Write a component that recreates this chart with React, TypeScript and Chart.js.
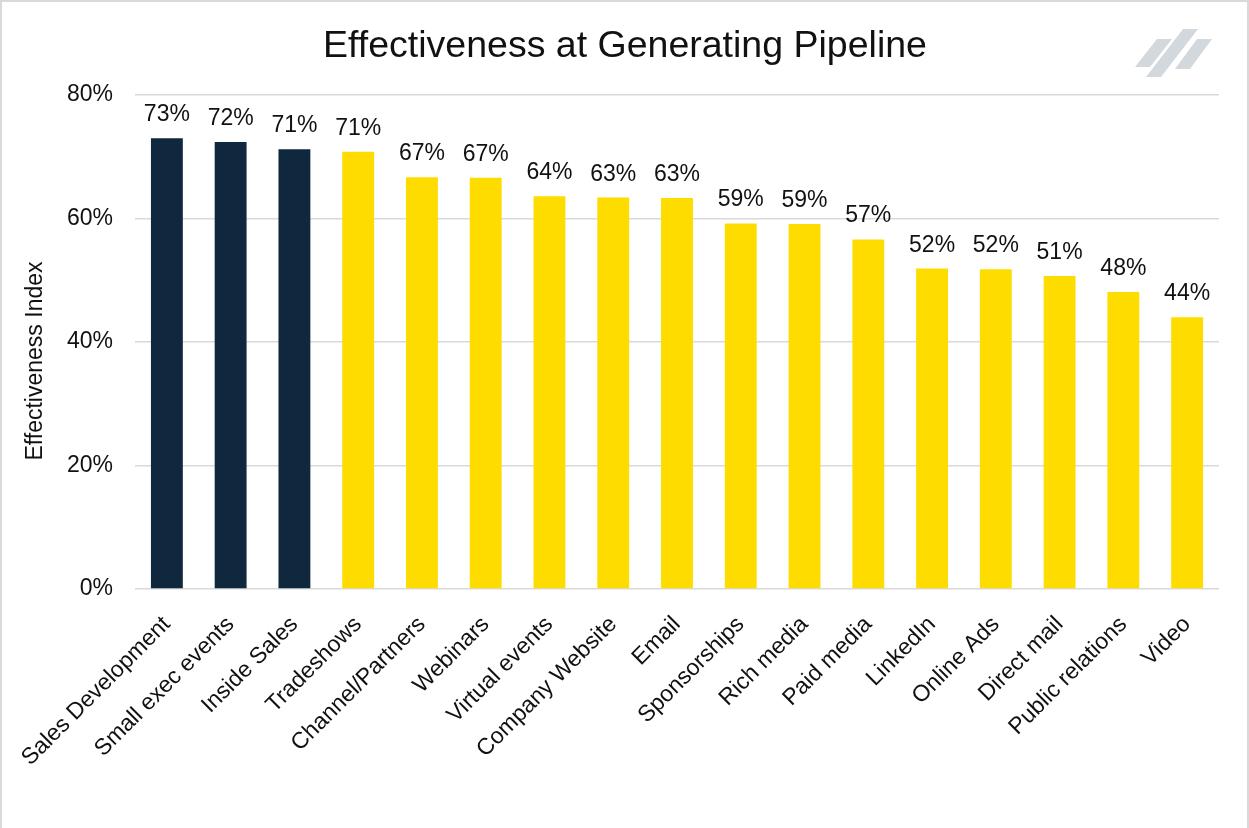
import React, { useEffect, useRef } from "react";
import { Chart, registerables } from "chart.js";

Chart.register(...registerables);

const chartTitle = "Effectiveness at Generating Pipeline";
const yAxisTitle = "Effectiveness Index";
const categories = [
  "Sales Development",
  "Small exec events",
  "Inside Sales",
  "Tradeshows",
  "Channel/Partners",
  "Webinars",
  "Virtual events",
  "Company Website",
  "Email",
  "Sponsorships",
  "Rich media",
  "Paid media",
  "LinkedIn",
  "Online Ads",
  "Direct mail",
  "Public relations",
  "Video",
];
const values = [73.0, 72.4, 71.2, 70.8, 66.7, 66.6, 63.6, 63.4, 63.3, 59.2, 59.1, 56.6, 51.9, 51.8, 50.7, 48.1, 44.0];
const highlighted = [true, true, true, false, false, false, false, false, false, false, false, false, false, false, false, false, false];
const yMin = 0;
const yMax = 80;
const yStep = 20;

const NAVY = "#10283e";
const YELLOW = "#ffdc00";
const GRID = "#d9d9d9";
const TEXT = "#111111";
const FONT = "'Liberation Sans', Arial, sans-serif";

const decorPlugin = {
  id: "decor",
  afterDraw(chart: any) {
    const ctx = chart.ctx;
    ctx.save();
    // frame
    ctx.fillStyle = "#d9d9d9";
    ctx.fillRect(0, 0, chart.width, 2);
    ctx.fillRect(0, 0, 2, chart.height);
    ctx.fillRect(chart.width - 2, 0, 2, chart.height);
    // title
    ctx.fillStyle = TEXT;
    ctx.font = `37.5px ${FONT}`;
    ctx.textAlign = "center";
    ctx.textBaseline = "alphabetic";
    ctx.fillText(chartTitle, 625, 57);
    // y axis title
    ctx.save();
    ctx.translate(36, 361);
    ctx.rotate(-Math.PI / 2);
    ctx.font = `23px ${FONT}`;
    ctx.textAlign = "center";
    ctx.textBaseline = "middle";
    ctx.fillText(yAxisTitle, 0, 0);
    ctx.restore();
    // value labels
    const meta = chart.getDatasetMeta(0);
    ctx.font = `23px ${FONT}`;
    ctx.textAlign = "center";
    ctx.textBaseline = "alphabetic";
    meta.data.forEach((bar: any, i: number) => {
      ctx.fillText(Math.round(values[i]) + "%", bar.x, bar.y - 17);
    });
    // logo
    ctx.fillStyle = "#d3d8dc";
    const pieces = [
      [1135, 67, 1157, 39],
      [1146, 77, 1183, 29],
      [1175, 69, 1197, 39],
    ];
    pieces.forEach(([bx, by, tx, ty]) => {
      ctx.beginPath();
      ctx.moveTo(bx, by);
      ctx.lineTo(bx + 15, by);
      ctx.lineTo(tx + 15, ty);
      ctx.lineTo(tx, ty);
      ctx.closePath();
      ctx.fill();
    });
    ctx.restore();
  },
};

export default function App() {
  const ref = useRef<HTMLCanvasElement>(null);
  useEffect(() => {
    if (!ref.current) return;
    const chart = new Chart(ref.current, {
      type: "bar",
      data: {
        labels: categories,
        datasets: [
          {
            data: values,
            backgroundColor: highlighted.map((h) => (h ? NAVY : YELLOW)),
            barPercentage: 0.5,
            categoryPercentage: 1,
          },
        ],
      },
      options: {
        responsive: false,
        animation: false,
        layout: { padding: { top: 95, left: 0, right: 30, bottom: 0 } },
        plugins: {
          legend: { display: false },
          tooltip: { enabled: false },
          title: { display: false },
        },
        scales: {
          x: {
            grid: { display: false },
            border: { display: false },
            ticks: {
              color: TEXT,
              font: { family: FONT, size: 23 },
              minRotation: 45,
              maxRotation: 45,
              autoSkip: false,
              padding: 14,
            },
            afterFit: (s: any) => {
              s.height = 828 - 589;
            },
          },
          y: {
            min: yMin,
            max: yMax,
            grid: { color: GRID, lineWidth: 1.5, drawTicks: false },
            border: { display: false },
            ticks: {
              stepSize: yStep,
              color: TEXT,
              font: { family: FONT, size: 23 },
              padding: 22,
              callback: (v: any) => v + "%",
            },
            afterFit: (s: any) => {
              s.width = 135;
            },
          },
        },
      },
      plugins: [decorPlugin],
    });
    return () => chart.destroy();
  }, []);
  return (
    <div style={{ position: "absolute", left: 0, top: 0, width: 1249, height: 828, background: "#fff" }}>
      <canvas ref={ref} width={1249} height={828} />
    </div>
  );
}
